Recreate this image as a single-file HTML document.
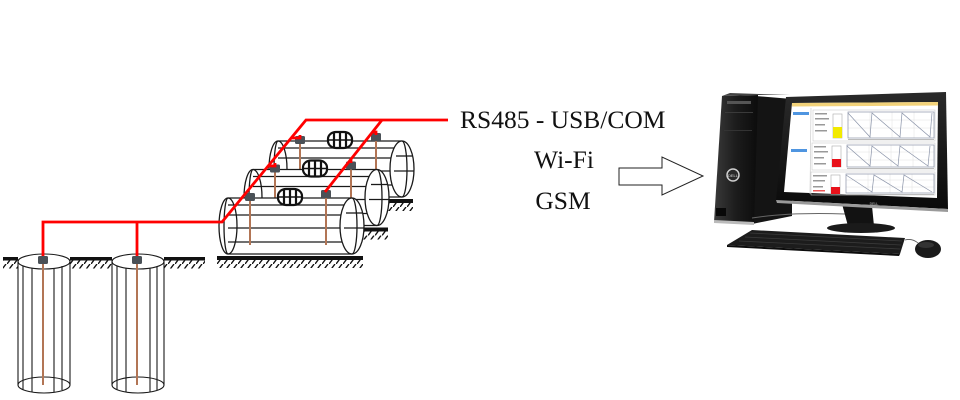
<!DOCTYPE html>
<html><head><meta charset="utf-8"><style>
html,body{margin:0;padding:0;background:#fff;}
svg{display:block;}
text{font-family:"Liberation Serif",serif;fill:#111;}
</style></head><body>
<svg width="960" height="400" viewBox="0 0 960 400" xmlns="http://www.w3.org/2000/svg">
<defs>
<pattern id="hatch" patternUnits="userSpaceOnUse" width="7" height="8" x="0" y="0">
<line x1="0" y1="8" x2="6" y2="0" stroke="#111" stroke-width="1.4"/>
</pattern>
<linearGradient id="tw" x1="0" y1="0" x2="1" y2="0">
<stop offset="0" stop-color="#3a3a3a"/><stop offset="0.5" stop-color="#1c1c1c"/><stop offset="1" stop-color="#0c0c0c"/>
</linearGradient>
<linearGradient id="bz" x1="0" y1="0" x2="0" y2="1">
<stop offset="0" stop-color="#2a2a2a"/><stop offset="1" stop-color="#0a0a0a"/>
</linearGradient>
<g id="pipe">
<rect x="217" y="256" width="146" height="4" fill="#111"/>
<rect x="217" y="260" width="146" height="8" fill="url(#hatch)"/>
<path d="M228,198 H352 A12,28 0 0 1 352,254 H228 A9,28 0 0 1 228,198 Z" fill="#fff"/>
<g stroke="#1a1a1a" stroke-width="1.3" fill="none">
<line x1="228" y1="198" x2="352" y2="198"/>
<line x1="228" y1="254" x2="352" y2="254"/>
<line x1="228" y1="205" x2="352" y2="205"/>
<line x1="228" y1="215" x2="352" y2="215"/>
<line x1="228" y1="228" x2="352" y2="228"/>
<line x1="228" y1="242" x2="352" y2="242"/>
<ellipse cx="228" cy="226" rx="9" ry="28"/>
<path d="M228,198 A4,28 0 0 0 228,254"/>
<ellipse cx="352" cy="226" rx="12" ry="28" fill="#fff"/>
<path d="M352,198 A5,28 0 0 1 352,254"/>
<line x1="346" y1="213" x2="362" y2="213"/>
<line x1="344" y1="228" x2="364" y2="228"/>
</g>
<rect x="245" y="193" width="10" height="8" rx="1.5" fill="#4a5157"/>
<line x1="250" y1="201" x2="250" y2="245" stroke="#b27555" stroke-width="2"/>
<rect x="321" y="190" width="10" height="8" rx="1.5" fill="#4a5157"/>
<line x1="326" y1="198" x2="326" y2="245" stroke="#b27555" stroke-width="2"/>
<g stroke="#111" stroke-width="2.2" fill="#fff">
<rect x="278" y="189" width="24" height="16" rx="8" ry="7"/>
<line x1="284" y1="189.5" x2="284" y2="204.5"/>
<line x1="290" y1="189" x2="290" y2="205"/>
<line x1="296" y1="189.5" x2="296" y2="204.5"/>
<line x1="278" y1="197" x2="302" y2="197" stroke-width="1.6"/>
</g>
</g>
</defs>

<!-- Ground -->
<rect x="3" y="257" width="15" height="3.5" fill="#111"/>
<rect x="70" y="257" width="42" height="3.5" fill="#111"/>
<rect x="164" y="257" width="41" height="3.5" fill="#111"/>
<rect x="3" y="260.5" width="15" height="8" fill="url(#hatch)"/>
<rect x="70" y="260.5" width="42" height="8" fill="url(#hatch)"/>
<rect x="164" y="260.5" width="41" height="8" fill="url(#hatch)"/>

<!-- Wells -->
<g stroke="#1a1a1a" stroke-width="1.1" fill="none">
<ellipse cx="44" cy="261.5" rx="26" ry="7.5"/>
<ellipse cx="44" cy="385" rx="26" ry="8"/>
<line x1="18" y1="261.5" x2="18" y2="385"/>
<line x1="23" y1="266" x2="23" y2="390"/>
<line x1="32" y1="268" x2="32" y2="392"/>
<line x1="54" y1="268" x2="54" y2="392"/>
<line x1="62" y1="266" x2="62" y2="390"/>
<line x1="70" y1="261.5" x2="70" y2="385"/>
<ellipse cx="138" cy="261.5" rx="26" ry="7.5"/>
<ellipse cx="138" cy="385" rx="26" ry="8"/>
<line x1="112" y1="261.5" x2="112" y2="385"/>
<line x1="117" y1="266" x2="117" y2="390"/>
<line x1="126" y1="268" x2="126" y2="392"/>
<line x1="150" y1="268" x2="150" y2="392"/>
<line x1="157" y1="266" x2="157" y2="390"/>
<line x1="164" y1="261.5" x2="164" y2="385"/>
</g>
<line x1="43" y1="263" x2="43" y2="385" stroke="#b27555" stroke-width="2"/>
<line x1="137" y1="263" x2="137" y2="385" stroke="#b27555" stroke-width="2"/>
<rect x="38" y="256" width="10" height="8" rx="1.5" fill="#4a5157"/>
<rect x="132" y="256" width="10" height="8" rx="1.5" fill="#4a5157"/>

<!-- Pipes -->
<use href="#pipe" transform="translate(50,-57)"/>
<use href="#pipe" transform="translate(25,-28.5)"/>
<use href="#pipe"/>

<!-- Red cable -->
<g stroke="#ff0000" stroke-width="2.8" fill="none" stroke-linejoin="miter">
<polyline points="43,256 43,222 222,222 306,120 448,120"/>
<line x1="137" y1="222" x2="137" y2="256"/>
<line x1="382" y1="120" x2="325" y2="192"/>
<polyline points="268.5,166 275,166 275,163"/>
<polyline points="292,138 300,138 300,135"/>
<line x1="351" y1="160" x2="351" y2="163"/>
<polyline points="373,132 376,132 376,135"/>
</g>

<!-- Labels -->
<text x="460" y="128" font-size="25.5">RS485 - USB/COM</text>
<text x="564" y="168" font-size="25.5" text-anchor="middle">Wi-Fi</text>
<text x="563" y="209" font-size="25.5" text-anchor="middle">GSM</text>

<!-- Hollow arrow -->
<path d="M619,168 H662 V157 L703,176 L662,195 V185 H619 Z" fill="#fff" stroke="#222" stroke-width="1"/>

<!-- Computer: tower -->
<polygon points="756,96 792,99 792,216 752,224" fill="#141414"/>
<polygon points="722,96 758,95 754,224 714,222" fill="url(#tw)"/>
<polygon points="722,96 730,93 790,95 758,95" fill="#444"/>
<rect x="727" y="101" width="24" height="3" fill="#555"/>
<rect x="725" y="112" width="28" height="1" fill="#3a3a3a"/>
<rect x="724" y="130" width="28" height="1" fill="#333"/>
<polygon points="714,220 754,222 754,225 714,223" fill="#bbb"/>
<rect x="716" y="208" width="10" height="8" fill="#080808"/>
<circle cx="733" cy="175" r="6" fill="#2a2a2a" stroke="#cfcfcf" stroke-width="1.5"/>
<text x="733" y="177" font-size="4" text-anchor="middle" style="fill:#ddd;font-family:'Liberation Sans',sans-serif">DELL</text>
<path d="M752,218 Q790,212 845,214" stroke="#666" stroke-width="1" fill="none"/>

<!-- Monitor stand -->
<polygon points="842,204 872,206 874,226 848,226" fill="#121212"/>
<ellipse cx="861" cy="228" rx="34" ry="5" fill="#1a1a1a"/>

<!-- Monitor -->
<polygon points="786,97 946,92 948,209 776,200" fill="url(#bz)"/>
<polygon points="776,200 948,209 948,212 777,203" fill="#9a9a9a"/>
<polygon points="792,103 938,102 937,198 784,192" fill="#fff"/>
<polygon points="792,103 938,102 938,105.5 792,106.5" fill="#f2d27a"/>
<g>
<rect x="793" y="112" width="16" height="3" fill="#4f95e0"/>
<rect x="791" y="149" width="16" height="3" fill="#4f95e0"/>
<line x1="811" y1="108" x2="810" y2="194" stroke="#ccc" stroke-width="0.7"/>
<g stroke="#ccc" stroke-width="0.6" fill="none">
<rect x="813" y="110" width="122" height="31"/>
<rect x="812" y="143" width="123" height="27"/>
<rect x="811" y="172" width="124" height="23"/>
</g>
<g fill="#999">
<rect x="815" y="113" width="12" height="1.5"/><rect x="815" y="118" width="14" height="1.5"/><rect x="815" y="124" width="10" height="1.5"/><rect x="815" y="130" width="12" height="1.5"/>
<rect x="814" y="146" width="12" height="1.5"/><rect x="814" y="151" width="14" height="1.5"/><rect x="814" y="157" width="10" height="1.5"/><rect x="814" y="163" width="12" height="1.5"/>
<rect x="813" y="175" width="14" height="1.5"/><rect x="813" y="180" width="12" height="1.5"/><rect x="813" y="186" width="10" height="1.5"/>
</g>
<rect x="813" y="190" width="12" height="1.5" fill="#e55"/>
<rect x="833" y="114" width="9" height="24" fill="#fff" stroke="#aaa" stroke-width="0.6"/>
<rect x="833" y="127" width="9" height="11" fill="#f2ea00"/>
<rect x="832" y="146" width="9" height="21" fill="#fff" stroke="#aaa" stroke-width="0.6"/>
<rect x="832" y="159" width="9" height="8" fill="#e8111a"/>
<rect x="831" y="175" width="9" height="19" fill="#fff" stroke="#aaa" stroke-width="0.6"/>
<rect x="831" y="187" width="9" height="7" fill="#e8111a"/>
<g stroke="#e0e0e0" stroke-width="0.5">
<line x1="848" y1="120" x2="934" y2="120"/><line x1="848" y1="128" x2="934" y2="128"/>
<line x1="870" y1="112" x2="870" y2="138"/><line x1="892" y1="112" x2="892" y2="138"/><line x1="914" y1="112" x2="914" y2="138"/>
<line x1="847" y1="152" x2="934" y2="152"/><line x1="847" y1="160" x2="934" y2="160"/>
<line x1="869" y1="145" x2="869" y2="167"/><line x1="891" y1="145" x2="891" y2="167"/><line x1="913" y1="145" x2="913" y2="167"/>
<line x1="846" y1="180" x2="934" y2="180"/><line x1="846" y1="187" x2="934" y2="187"/>
<line x1="868" y1="174" x2="868" y2="193"/><line x1="890" y1="174" x2="890" y2="193"/><line x1="912" y1="174" x2="912" y2="193"/>
</g>
<g stroke="#8a93a8" stroke-width="0.7" fill="none">
<rect x="848" y="112" width="86" height="26"/>
<rect x="847" y="145" width="87" height="22"/>
<rect x="846" y="174" width="88" height="19"/>
<polyline points="848,113 870,137 872,113 900,137 902,113 930,137 932,113"/>
<polyline points="847,146 870,166 872,146 898,166 900,146 928,166 930,146"/>
<polyline points="846,175 872,192 874,175 902,192 904,175 932,192"/>
</g>
<g fill="#bbb">
<rect x="848" y="139" width="86" height="1"/>
<rect x="847" y="168" width="87" height="1"/>
<rect x="846" y="194" width="88" height="1"/>
</g>
</g>
<text x="874" y="205" font-size="3.5" text-anchor="middle" style="fill:#ccc;font-family:'Liberation Sans',sans-serif">DELL</text>

<!-- Keyboard -->
<polygon points="752,230 905,238 900,254 727,245" fill="#1c1c1c"/>
<g stroke="#3a3a3a" stroke-width="0.8">
<line x1="750" y1="233" x2="902" y2="241"/>
<line x1="745" y1="237" x2="901" y2="245"/>
<line x1="739" y1="241" x2="900" y2="249"/>
</g>
<polygon points="727,245 900,254 899,256 727,247" fill="#0c0c0c"/>
<path d="M905,240 Q912,238 918,243" stroke="#555" stroke-width="0.8" fill="none"/>

<!-- Mouse -->
<ellipse cx="928" cy="249" rx="13" ry="9" fill="#1a1a1a"/>
<ellipse cx="926" cy="245" rx="8" ry="3" fill="#333"/>
</svg>
</body></html>
